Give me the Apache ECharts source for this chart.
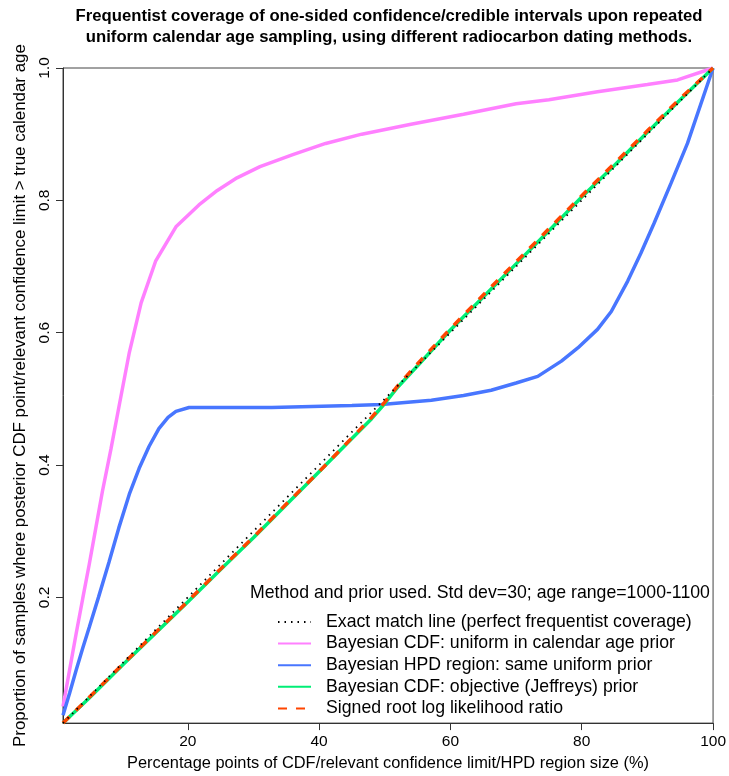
<!DOCTYPE html>
<html>
<head>
<meta charset="utf-8">
<script src="https://cdn.jsdelivr.net/npm/echarts@6/dist/echarts.min.js"></script>
<style>html,body{margin:0;padding:0;background:#fff}#c{width:729px;height:776px}</style>
</head>
<body>
<div id="c"></div>
<script>
// ---- data ----
const exactX = [1, 100];
const exactY = [0.01, 1.0];

const pinkX = [1, 2, 3, 4, 5, 6, 7, 8.3, 9.5, 11.1, 12.9, 15.1, 18.2, 21.7, 24.5, 27.5, 31, 36, 41, 46.5, 54, 62, 70, 75, 82.4, 90, 94.6, 100];
const pinkY = [0.035, 0.09, 0.145, 0.198, 0.25, 0.305, 0.36, 0.424, 0.487, 0.57, 0.645, 0.708, 0.76, 0.793, 0.815, 0.834, 0.851, 0.869, 0.886, 0.900, 0.915, 0.930, 0.946, 0.952, 0.964, 0.975, 0.982, 1.0];

const blueX = [1, 2, 3, 4, 5, 6.4, 8, 9.5, 11.1, 12.6, 14.1, 15.6, 17, 18.2, 20.2, 32.8, 45, 49.5, 57.1, 62, 66.2, 70, 73.3, 76.9, 79.4, 82.4, 84.5, 87, 89, 91, 93.6, 96.1, 100];
const blueY = [0.022, 0.055, 0.09, 0.123, 0.155, 0.2, 0.253, 0.305, 0.356, 0.395, 0.428, 0.455, 0.472, 0.481, 0.487, 0.487, 0.490, 0.4915, 0.498, 0.505, 0.513, 0.524, 0.534, 0.557, 0.577, 0.605, 0.632, 0.678, 0.720, 0.765, 0.826, 0.886, 1.0];

const greenX = [1, 5, 10, 15, 20, 25, 30, 35, 40, 45, 48, 50, 52, 55, 60, 65, 70, 75, 80, 85, 90, 95, 100];
const greenY = [0.01, 0.048, 0.097, 0.145, 0.193, 0.242, 0.29, 0.34, 0.39, 0.44, 0.47, 0.493, 0.518, 0.55, 0.604, 0.654, 0.704, 0.754, 0.805, 0.853, 0.903, 0.952, 1.0];

const orangeX = [1, 5, 10, 15, 20, 25, 30, 35, 40, 45, 48, 50, 52, 55, 60, 65, 70, 75, 80, 85, 90, 95, 100];
const orangeY = [0.01, 0.049, 0.098, 0.146, 0.194, 0.243, 0.291, 0.341, 0.39, 0.441, 0.472, 0.495, 0.52, 0.553, 0.606, 0.657, 0.707, 0.757, 0.807, 0.856, 0.905, 0.954, 1.0];

const xTicks = [20, 40, 60, 80, 100];
const yTicks = [0.2, 0.4, 0.6, 0.8, 1.0];

const names = [
  'Exact match line (perfect frequentist coverage)',
  'Bayesian CDF: uniform in calendar age prior',
  'Bayesian HPD region: same uniform prior',
  'Bayesian CDF: objective (Jeffreys) prior',
  'Signed root log likelihood ratio'
];

const pairs = (xs, ys) => xs.map((x, i) => [x, ys[i]]);

const FONT = '"Liberation Sans", Arial, sans-serif';
const chart = echarts.init(document.getElementById('c'), null, {renderer: 'canvas'});

chart.setOption({
  animation: false,
  backgroundColor: '#ffffff',
  textStyle: {fontFamily: FONT},
  grid: {left: 63, right: 13, top: 68, bottom: 52, show: true, borderColor: '#444', borderWidth: 1, backgroundColor: 'transparent'},
  xAxis: {
    type: 'value', min: 1, max: 100,
    name: 'Percentage points of CDF/relevant confidence limit/HPD region size (%)',
    nameLocation: 'middle', nameGap: 31,
    nameTextStyle: {fontSize: 16.4, color: '#000', fontFamily: FONT},
    axisLine: {show: true, lineStyle: {color: '#333', width: 1}},
    axisTick: {show: true, length: 7, lineStyle: {color: '#333'}, customValues: xTicks},
    axisLabel: {fontSize: 15.5, color: '#000', margin: 11, fontFamily: FONT, customValues: xTicks, formatter: v => String(v)},
    splitLine: {show: false}
  },
  yAxis: {
    type: 'value', min: 0.01, max: 1.0,
    name: 'Proportion of samples where posterior CDF point/relevant confidence limit > true calendar age',
    nameLocation: 'middle', nameGap: 33,
    nameTextStyle: {fontSize: 16.9, color: '#000', fontFamily: FONT},
    axisLine: {show: true, lineStyle: {color: '#333', width: 1}},
    axisTick: {show: true, length: 7, lineStyle: {color: '#333'}, customValues: yTicks},
    axisLabel: {fontSize: 15.5, color: '#000', margin: 10, rotate: 90, fontFamily: FONT, customValues: yTicks, formatter: v => v.toFixed(1)},
    splitLine: {show: false}
  },
  legend: {
    orient: 'vertical', left: 272, top: 608,
    itemWidth: 33, itemHeight: 16, itemGap: 3.6,
    data: names,
    selectedMode: false,
    itemStyle: {opacity: 0},
    textStyle: {fontSize: 17.7, color: '#000', fontFamily: FONT, padding: [0, 0, 0, 10]}
  },
  graphic: [
    {type: 'text', left: 389 - 330, top: 6, silent: true,
     style: {text: 'Frequentist coverage of one-sided confidence/credible intervals upon repeated\nuniform calendar age sampling, using different radiocarbon dating methods.',
             fill: '#000', font: 'bold 16.7px ' + FONT, textAlign: 'center', lineHeight: 21, x: 330, width: 660}},
    {type: 'text', left: 250, top: 584, silent: true,
     style: {text: 'Method and prior used. Std dev=30; age range=1000-1100', fill: '#000', font: '17.7px ' + FONT}}
  ],
  series: [
    {name: names[1], type: 'line', symbol: 'none', data: pairs(pinkX, pinkY), lineStyle: {color: '#ff80ff', width: 3.5}, itemStyle: {color: '#ff80ff'}, z: 2},
    {name: names[2], type: 'line', symbol: 'none', data: pairs(blueX, blueY), lineStyle: {color: '#4876ff', width: 3.5}, itemStyle: {color: '#4876ff'}, z: 3},
    {name: names[3], type: 'line', symbol: 'none', data: pairs(greenX, greenY), lineStyle: {color: '#00ee76', width: 3.5}, itemStyle: {color: '#00ee76'}, z: 4},
    {name: names[4], type: 'line', symbol: 'none', data: pairs(orangeX, orangeY), lineStyle: {color: '#ff4500', width: 3.5, type: [9, 9]}, itemStyle: {color: '#ff4500'}, z: 5},
    {name: names[0], type: 'line', symbol: 'none', data: pairs(exactX, exactY), lineStyle: {color: '#000', width: 1.8, type: [1.5, 5]}, itemStyle: {color: '#000'}, z: 6}
  ]
});
</script>
</body>
</html>
